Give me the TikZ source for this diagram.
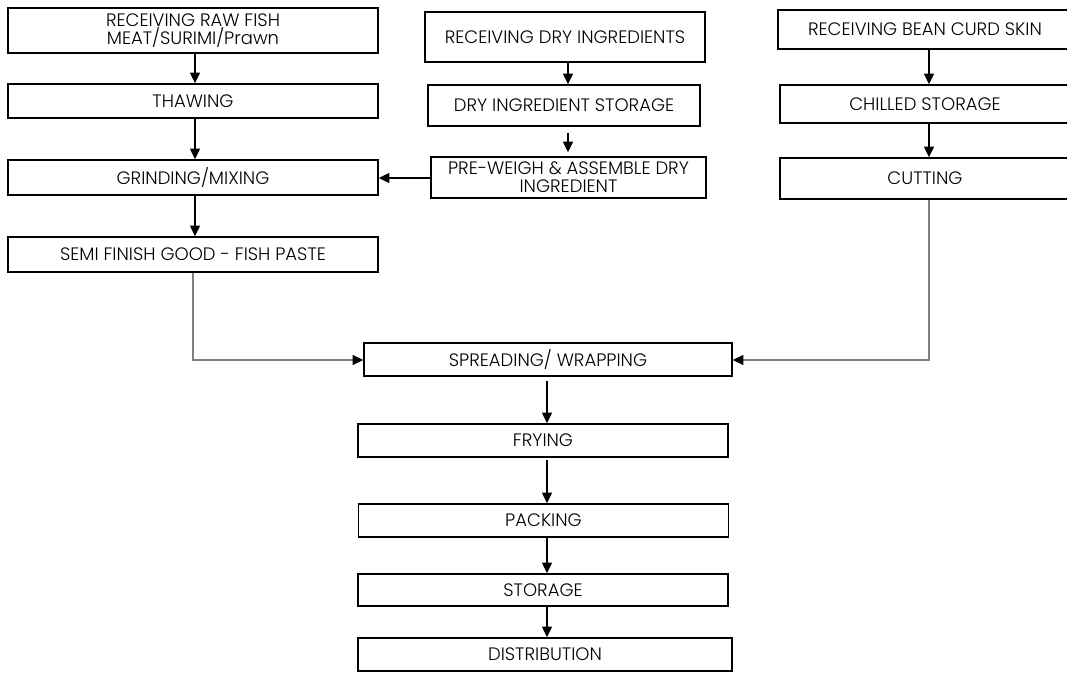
\documentclass[tikz,border=0pt]{standalone}
\usepackage{fontspec}
\IfFontExistsTF{Poppins Light}{\setmainfont{Poppins Light}}{\setmainfont{Poppins}}
\usetikzlibrary{arrows.meta}
\begin{document}
\begin{tikzpicture}[x=0.75pt,y=-0.75pt,
  box/.style={draw=black, line width=1.1pt, rectangle, inner sep=0pt, align=center,
    font=\fontsize{13.5}{13.5}\selectfont},
  flow/.style={draw=black, line width=0.95pt, -{Triangle[length=8pt,width=7.5pt]}},
  feed/.style={draw=black!50, line width=1.1pt, -{Triangle[length=8pt,width=7.5pt,color=black]}}]
\useasboundingbox[fill=white] (0,0) rectangle (1067,672);
% left column
\node[box, minimum width=370*0.75pt, minimum height=45*0.75pt] (raw) at (193,30.5) {RECEIVING RAW FISH\\MEAT/SURIMI/Prawn};
\node[box, minimum width=370*0.75pt, minimum height=34*0.75pt] (thaw) at (193,101) {THAWING};
\node[box, minimum width=370*0.75pt, minimum height=35*0.75pt] (grind) at (193,177.5) {GRINDING/MIXING};
\node[box, minimum width=370*0.75pt, minimum height=35*0.75pt] (semi) at (193,254.5) {SEMI FINISH GOOD - FISH PASTE};
% middle column
\node[box, minimum width=280*0.75pt, minimum height=50*0.75pt] (rdry) at (565,37) {RECEIVING DRY INGREDIENTS};
\node[box, minimum width=272*0.75pt, minimum height=41*0.75pt] (sdry) at (564,105.5) {DRY INGREDIENT STORAGE};
\node[box, minimum width=275*0.75pt, minimum height=41*0.75pt] (pre) at (568.5,177.5) {PRE-WEIGH \& ASSEMBLE DRY\\INGREDIENT};
% right column
\node[box, minimum width=294*0.75pt, minimum height=39*0.75pt] (bean) at (925,29.5) {RECEIVING BEAN CURD SKIN};
\node[box, minimum width=290*0.75pt, minimum height=38*0.75pt] (chill) at (925,104) {CHILLED STORAGE};
\node[box, minimum width=290*0.75pt, minimum height=41*0.75pt] (cut) at (925,178.5) {CUTTING};
% bottom column
\node[box, minimum width=368*0.75pt, minimum height=33*0.75pt] (spread) at (548,359.5) {SPREADING/ WRAPPING};
\node[box, minimum width=370*0.75pt, minimum height=33*0.75pt] (fry) at (543,440.5) {FRYING};
\node[box, minimum width=370*0.75pt, minimum height=33*0.75pt] (pack) at (543.5,520.5) {PACKING};
\node[box, minimum width=370*0.75pt, minimum height=32*0.75pt] (store) at (543,590) {STORAGE};
\node[box, minimum width=374*0.75pt, minimum height=33*0.75pt] (dist) at (545,654.5) {DISTRIBUTION};
% coordinates for connector columns
\coordinate (xl) at (195,0);
\coordinate (xm) at (568,0);
\coordinate (xr) at (929,0);
\coordinate (xb) at (547,0);
\coordinate (semiturn) at (193,360);
\coordinate (cutturn) at (929,360);
% arrows
\draw[flow] (raw.south -| xl) -- (thaw.north -| xl);
\draw[flow] (thaw.south -| xl) -- (grind.north -| xl);
\draw[flow] (grind.south -| xl) -- (semi.north -| xl);
\draw[flow] (rdry.south -| xm) -- (sdry.north -| xm);
\draw[flow] ([yshift=-4.5pt]sdry.south -| xm) -- ([yshift=3pt]pre.north -| xm);
\draw[flow] (pre.west |- 0,178) -- (grind.east |- 0,178);
\draw[flow] (bean.south -| xr) -- (chill.north -| xr);
\draw[flow] (chill.south -| xr) -- (cut.north -| xr);
\draw[feed] (semi.south) -- (semiturn) -- (spread.west |- semiturn);
\draw[feed] (cut.south -| xr) -- (cutturn) -- (spread.east |- cutturn);
\draw[flow] ([yshift=-3pt]spread.south -| xb) -- (fry.north -| xb);
\draw[flow] ([yshift=-2pt]fry.south -| xb) -- (pack.north -| xb);
\draw[flow] (pack.south -| xb) -- (store.north -| xb);
\draw[flow] (store.south -| xb) -- (dist.north -| xb);
\end{tikzpicture}
\end{document}
